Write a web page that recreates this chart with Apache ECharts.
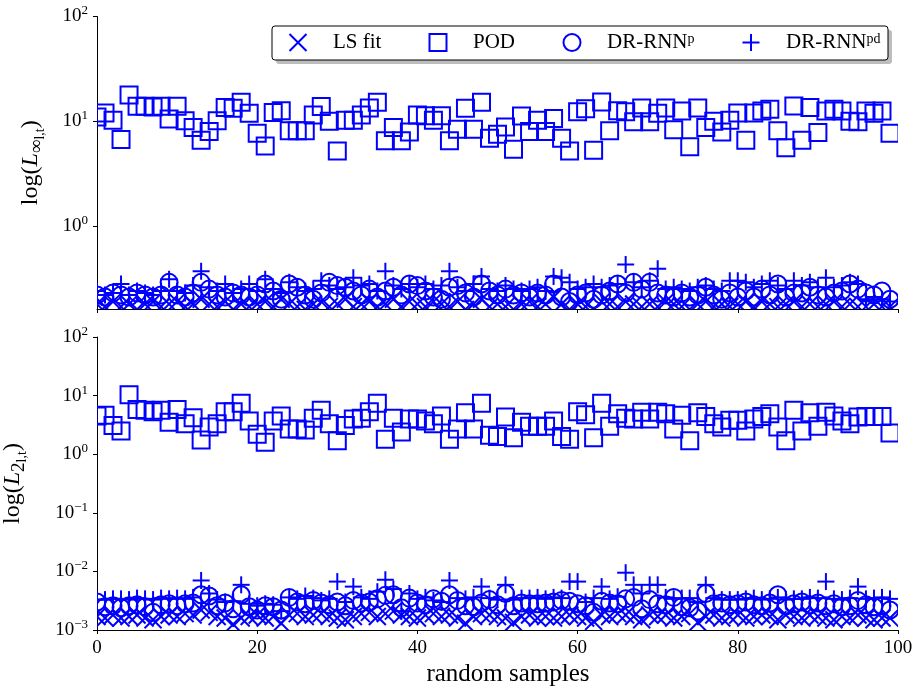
<!DOCTYPE html>
<html><head><meta charset="utf-8">
<script src="https://cdn.jsdelivr.net/npm/echarts@6/dist/echarts.min.js"></script>
<style>html,body{margin:0;padding:0;background:#fff}#c{width:920px;height:691px}</style>
</head><body><div id="c"></div>
<script>
// ---------------- data ----------------
const sampleIndex = [...Array(100).keys()];
const xTicks = [0, 20, 40, 60, 80, 100];
const yTicksTop = [1, 10, 100];
const yTicksBottom = [0.001, 0.01, 0.1, 1, 10, 100];
const seriesNames = ['LS fit', 'POD', 'DR-RNN^p', 'DR-RNN^pd'];

// top panel: L_inf
const podLinf = [11,12.0,10.2,6.7,17.8,13.9,13.9,13.7,13.9,10.5,
 13.9,10.1,8.7,6.6,8.0,10.1,13.5,13.3,15.2,11.9,
 7.7,5.8,12.1,12.6,8.1,8.1,8.1,11.5,13.8,10.0,
 5.2,10.2,10.2,11.5,13.4,15.2,6.5,8.7,6.5,7.9,
 11.5,11.3,10.2,11.3,6.5,8.4,13.3,8.4,15.2,6.9,
 7.5,8.8,5.4,11.2,8.0,10.2,8.0,10.6,6.9,5.2,
 12.3,13.2,5.3,15.3,8.1,12.6,12.3,9.9,13.4,9.9,
 11.9,13.4,8.3,12.5,5.7,13.4,8.7,10.0,7.9,10.2,
 12.0,6.6,12.0,12.5,13.0,8.1,5.6,14.0,6.6,13.5,
 7.8,12.5,13.0,12.5,10.0,9.9,12.5,11.9,12.5,7.7];
const lsLinf = [0.18,0.17,0.19,0.17,0.18,0.16,0.18,0.19,0.17,0.18,
 0.19,0.17,0.18,0.2,0.18,0.17,0.19,0.16,0.18,0.17,
 0.18,0.19,0.17,0.2,0.18,0.17,0.16,0.18,0.19,0.17,
 0.18,0.2,0.17,0.18,0.19,0.17,0.18,0.2,0.17,0.19,
 0.18,0.17,0.19,0.18,0.17,0.19,0.16,0.18,0.2,0.17,
 0.18,0.17,0.16,0.18,0.19,0.17,0.18,0.21,0.18,0.16,
 0.18,0.17,0.16,0.19,0.18,0.17,0.19,0.18,0.17,0.18,
 0.17,0.19,0.18,0.17,0.16,0.18,0.19,0.17,0.18,0.17,
 0.18,0.19,0.17,0.19,0.18,0.17,0.18,0.19,0.17,0.18,
 0.17,0.18,0.19,0.17,0.18,0.17,0.17,0.18,0.17,0.17];
const pLinf = [0.22,0.21,0.23,0.22,0.21,0.23,0.22,0.21,0.22,0.29,
 0.22,0.21,0.23,0.29,0.25,0.22,0.21,0.23,0.22,0.21,
 0.22,0.28,0.24,0.2,0.28,0.26,0.22,0.2,0.23,0.29,
 0.27,0.26,0.24,0.22,0.25,0.21,0.24,0.26,0.22,0.28,
 0.27,0.24,0.21,0.2,0.26,0.27,0.23,0.21,0.28,0.24,
 0.22,0.25,0.22,0.23,0.21,0.23,0.22,0.28,0.21,0.19,
 0.22,0.23,0.2,0.22,0.24,0.28,0.23,0.29,0.25,0.29,
 0.23,0.22,0.21,0.23,0.21,0.22,0.26,0.22,0.2,0.23,
 0.21,0.24,0.21,0.25,0.22,0.28,0.21,0.23,0.23,0.26,
 0.22,0.21,0.23,0.24,0.28,0.25,0.23,0.22,0.24,0.2];
const pdLinf = [0.24,0.22,0.23,0.28,0.22,0.24,0.23,0.22,0.24,0.31,
 0.24,0.23,0.27,0.37,0.26,0.24,0.28,0.23,0.25,0.28,
 0.24,0.31,0.25,0.23,0.29,0.26,0.24,0.25,0.3,0.27,
 0.25,0.26,0.32,0.27,0.28,0.24,0.37,0.27,0.25,0.28,
 0.26,0.28,0.25,0.27,0.37,0.26,0.24,0.28,0.33,0.25,
 0.24,0.27,0.25,0.24,0.25,0.26,0.24,0.33,0.32,0.29,
 0.25,0.26,0.28,0.26,0.27,0.28,0.43,0.29,0.26,0.3,
 0.39,0.25,0.26,0.25,0.24,0.26,0.27,0.25,0.24,0.3,
 0.3,0.29,0.26,0.28,0.3,0.27,0.25,0.3,0.27,0.29,
 0.26,0.32,0.26,0.27,0.29,0.28,0.2,0.21,0.2,0.19];

// bottom panel: L_2
const podL2 = [4.5,4.6,3.1,2.5,10.3,5.8,5.6,5.3,5.6,3.5,
 5.8,3.3,4.2,1.75,2.9,3.3,5.3,5.3,7.4,3.7,
 2.2,1.6,3.7,4.5,2.7,2.7,2.6,4.1,5.6,3.3,
 1.7,3.1,4.0,4.1,5.3,7.4,1.8,4.1,2.4,4.0,
 4.0,3.7,3.3,4.5,1.8,2.7,5.1,2.7,7.4,2.1,
 2.0,4.3,1.9,3.5,3.0,3.0,3.0,3.7,2.0,1.8,
 5.3,4.7,1.9,7.4,3.0,4.9,4.1,4.0,5.2,4.0,
 5.2,4.9,2.7,4.6,1.7,5.1,4.4,3.3,2.9,3.8,
 3.8,2.5,4.0,4.4,4.9,2.9,1.7,5.6,2.5,5.1,
 3.0,5.2,4.5,3.7,3.3,4.3,4.4,4.4,4.4,2.3];
const lsL2 = [1.7e-3,1.6e-3,1.8e-3,1.6e-3,1.7e-3,1.8e-3,1.6e-3,1.5e-3,1.7e-3,1.8e-3,
 1.7e-3,1.9e-3,1.8e-3,2.2e-3,2.0e-3,1.7e-3,1.6e-3,1.25e-3,1.6e-3,1.7e-3,
 1.8e-3,1.6e-3,1.7e-3,1.3e-3,1.8e-3,1.9e-3,1.7e-3,1.8e-3,1.9e-3,1.7e-3,
 1.6e-3,1.5e-3,1.7e-3,1.9e-3,2.0e-3,1.7e-3,1.9e-3,2.1e-3,1.8e-3,1.7e-3,
 1.6e-3,1.8e-3,1.9e-3,1.7e-3,1.8e-3,1.6e-3,1.3e-3,1.7e-3,1.9e-3,1.8e-3,
 1.7e-3,1.6e-3,1.35e-3,1.7e-3,1.8e-3,1.6e-3,1.7e-3,1.6e-3,1.7e-3,1.8e-3,
 1.7e-3,1.6e-3,1.4e-3,1.8e-3,1.7e-3,1.9e-3,1.8e-3,1.7e-3,1.5e-3,1.8e-3,
 1.7e-3,1.8e-3,1.6e-3,1.7e-3,1.9e-3,1.35e-3,1.7e-3,1.8e-3,1.6e-3,1.7e-3,
 1.8e-3,1.6e-3,1.7e-3,1.8e-3,1.7e-3,1.5e-3,1.8e-3,1.7e-3,1.6e-3,1.8e-3,
 1.7e-3,1.6e-3,1.5e-3,1.7e-3,1.6e-3,1.8e-3,1.6e-3,1.5e-3,1.6e-3,1.6e-3];
const pL2 = [3.0e-3,2.5e-3,2.6e-3,2.4e-3,2.6e-3,2.7e-3,2.5e-3,2.0e-3,2.7e-3,2.8e-3,
 2.6e-3,2.8e-3,2.9e-3,4.0e-3,3.8e-3,2.6e-3,2.9e-3,2.3e-3,4.0e-3,2.5e-3,
 2.2e-3,2.6e-3,2.5e-3,2.2e-3,3.6e-3,3.0e-3,2.8e-3,3.2e-3,2.9e-3,2.7e-3,
 3.0e-3,2.6e-3,3.2e-3,2.9e-3,3.0e-3,3.4e-3,3.9e-3,4.0e-3,2.4e-3,3.5e-3,
 2.9e-3,2.7e-3,3.4e-3,3.1e-3,4.0e-3,3.2e-3,2.6e-3,2.5e-3,2.9e-3,3.3e-3,
 2.7e-3,4.2e-3,2.6e-3,2.9e-3,2.8e-3,2.8e-3,2.9e-3,3.0e-3,3.2e-3,3.1e-3,
 2.8e-3,2.6e-3,2.0e-3,3.1e-3,2.9e-3,2.8e-3,3.4e-3,3.6e-3,2.3e-3,3.3e-3,
 2.8e-3,2.7e-3,3.6e-3,2.5e-3,2.4e-3,2.1e-3,4.2e-3,2.8e-3,2.9e-3,2.7e-3,
 2.8e-3,3.0e-3,2.7e-3,2.6e-3,2.9e-3,4.0e-3,2.6e-3,2.8e-3,3.0e-3,2.7e-3,
 2.9e-3,2.6e-3,2.8e-3,2.5e-3,2.6e-3,3.2e-3,2.7e-3,2.5e-3,2.6e-3,2.2e-3];
const pdL2 = [3.3e-3,3.3e-3,3.4e-3,3.4e-3,3.3e-3,3.5e-3,3.4e-3,3.3e-3,3.5e-3,3.4e-3,
 3.5e-3,3.4e-3,3.6e-3,7.0e-3,4.2e-3,3.3e-3,3.0e-3,3.1e-3,5.9e-3,2.8e-3,
 2.6e-3,2.8e-3,2.7e-3,2.1e-3,3.6e-3,3.4e-3,3.8e-3,3.5e-3,3.2e-3,3.4e-3,
 6.7e-3,3.0e-3,5.5e-3,3.6e-3,3.4e-3,4.5e-3,7.2e-3,5.0e-3,2.1e-3,4.2e-3,
 3.4e-3,3.6e-3,3.2e-3,3.0e-3,7.0e-3,3.5e-3,3.4e-3,3.6e-3,5.5e-3,3.5e-3,
 3.3e-3,5.9e-3,3.3e-3,3.5e-3,3.5e-3,3.6e-3,3.4e-3,3.6e-3,3.5e-3,6.7e-3,
 6.7e-3,3.0e-3,3.5e-3,5.5e-3,3.4e-3,3.7e-3,9.5e-3,5.9e-3,4.2e-3,5.9e-3,
 5.9e-3,3.6e-3,3.4e-3,3.5e-3,3.5e-3,3.0e-3,5.9e-3,3.5e-3,3.3e-3,3.3e-3,
 3.3e-3,3.4e-3,3.5e-3,3.3e-3,3.4e-3,3.6e-3,3.3e-3,3.4e-3,3.4e-3,3.6e-3,
 3.5e-3,6.7e-3,3.4e-3,3.3e-3,3.5e-3,5.5e-3,3.4e-3,3.5e-3,3.6e-3,3.4e-3];

// ---------------- style ----------------
const BLUE = '#0000ff';
const FONT = 'Liberation Serif';
const HALF = 8.5;

function renderer(kind) {
  return function (params, api) {
    const p = api.coord([api.value(0), api.value(1)]);
    const st = { fill: 'none', stroke: BLUE, lineWidth: 2 };
    const s = HALF;
    if (kind === 'square') {
      return { type: 'rect', shape: { x: p[0] - s, y: p[1] - s, width: 2 * s, height: 2 * s }, style: st };
    }
    if (kind === 'circle') {
      return { type: 'circle', shape: { cx: p[0], cy: p[1], r: s }, style: st };
    }
    if (kind === 'cross') {
      return { type: 'group', children: [
        { type: 'line', shape: { x1: p[0] - s, y1: p[1] - s, x2: p[0] + s, y2: p[1] + s }, style: st },
        { type: 'line', shape: { x1: p[0] - s, y1: p[1] + s, x2: p[0] + s, y2: p[1] - s }, style: st }
      ] };
    }
    return { type: 'group', children: [
      { type: 'line', shape: { x1: p[0] - s, y1: p[1], x2: p[0] + s, y2: p[1] }, style: st },
      { type: 'line', shape: { x1: p[0], y1: p[1] - s, x2: p[0], y2: p[1] + s }, style: st }
    ] };
  };
}
const kinds = ['cross', 'square', 'circle', 'plus'];
function pairs(vals) { return sampleIndex.map((x, i) => [x, vals[i]]); }

const panels = [[lsLinf, podLinf, pLinf, pdLinf], [lsL2, podL2, pL2, pdL2]];
const series = [];
panels.forEach((arrs, g) => {
  arrs.forEach((arr, k) => {
    series.push({
      type: 'custom', name: seriesNames[k], xAxisIndex: g, yAxisIndex: g,
      data: pairs(arr), encode: { x: 0, y: 1 }, clip: true,
      renderItem: renderer(kinds[k]), itemStyle: { color: BLUE }, z: 2 + k * 0.01
    });
  });
});

function supFmt(v) {
  const e = Math.round(Math.log10(v));
  return '{b|10}{sup|' + (e < 0 ? '\u2212' + (-e) : e) + '}';
}
const labelRich = {
  b: { fontFamily: FONT, fontSize: 19, lineHeight: 24, color: '#000' },
  sup: { fontFamily: FONT, fontSize: 13, lineHeight: 14, verticalAlign: 'top', color: '#000' }
};
const axisLineStyle = { color: '#000', width: 1 };

function yAxis(g, min, max, ticks, nameText, gap) {
  return {
    type: 'log', logBase: 10, gridIndex: g, min: min, max: max,
    axisLine: { show: true, lineStyle: axisLineStyle },
    axisTick: { show: true, length: 4, lineStyle: axisLineStyle, customValues: ticks },
    axisLabel: { margin: 9, formatter: supFmt, rich: labelRich, customValues: ticks },
    splitLine: { show: false }, minorTick: { show: false },
    name: nameText, nameLocation: 'middle', nameRotate: 90, nameGap: gap,
    nameTextStyle: {
      fontFamily: FONT, fontSize: 24, color: '#000', lineHeight: 32,
      rich: {
        i: { fontFamily: FONT, fontSize: 24, fontStyle: 'italic', color: '#000' },
        s1: { fontFamily: FONT, fontSize: 19, lineHeight: 25, verticalAlign: 'bottom', color: '#000' },
        s2: { fontFamily: FONT, fontSize: 14, lineHeight: 14, verticalAlign: 'bottom', color: '#000' }
      }
    }
  };
}
function xAxis(g, showLabels) {
  const ax = {
    type: 'value', gridIndex: g, min: 0, max: 100, interval: 20,
    axisLine: { show: true, onZero: false, lineStyle: axisLineStyle },
    axisTick: { show: true, length: 4, lineStyle: axisLineStyle },
    axisLabel: { show: showLabels, margin: 9, fontFamily: FONT, fontSize: 19, color: '#000' },
    splitLine: { show: false }
  };
  if (showLabels) {
    ax.name = 'random samples';
    ax.nameLocation = 'middle';
    ax.nameGap = 32;
    ax.nameTextStyle = { fontFamily: FONT, fontSize: 25, color: '#000', padding: [0, 0, 0, 21] };
  }
  return ax;
}

const legendLefts = [287, 427, 561, 740];
const legendIcons = [
  'path://M0,0L10,10M10,0L0,10',
  'path://M0,0L10,0L10,10L0,10Z',
  'circle',
  'path://M5,0L5,10M0,5L10,5'
];
const legends = seriesNames.map((n, k) => ({
  show: true, left: legendLefts[k], top: 31.5, padding: 0, orient: 'horizontal',
  itemWidth: 60, itemHeight: 17, selectedMode: false,
  data: [{ name: n, icon: legendIcons[k] }],
  itemStyle: { color: 'none', borderColor: BLUE, borderWidth: 2 },
  formatter: function (name) {
    if (name === 'DR-RNN^p') return 'DR-RNN{sup|p}';
    if (name === 'DR-RNN^pd') return 'DR-RNN{sup|pd}';
    return name;
  },
  textStyle: {
    fontFamily: FONT, fontSize: 21, color: '#000',
    rich: { sup: { fontFamily: FONT, fontSize: 14, lineHeight: 14, verticalAlign: 'top', color: '#000' } }
  }
}));

const option = {
  animation: false,
  backgroundColor: '#fff',
  grid: [
    { left: 97, right: 22, top: 16.5, height: 292.5, containLabel: false, outerBoundsMode: 'none' },
    { left: 97, right: 22, top: 337, height: 293, containLabel: false, outerBoundsMode: 'none' }
  ],
  xAxis: [xAxis(0, false), xAxis(1, true)],
  yAxis: [
    yAxis(0, Math.pow(10, -0.792), 100, yTicksTop, 'log({i|L}{s1|\u221e}{s2|l,t})', 50),
    yAxis(1, 0.001, 100, yTicksBottom, 'log({i|L}{s1|2}{s2|l,t})', 68)
  ],
  legend: legends,
  graphic: [
    { type: 'rect', z: 3, silent: true, shape: { x: 276, y: 30, width: 616, height: 34, r: 3 }, style: { fill: '#bdbdbd' } },
    { type: 'rect', z: 3, silent: true, shape: { x: 272, y: 26, width: 616, height: 34, r: 3 }, style: { fill: '#fff', stroke: '#000', lineWidth: 1 } }
  ],
  series: series
};

const chart = echarts.init(document.getElementById('c'), null, { renderer: 'canvas' });
chart.setOption(option);
</script>
</body></html>
